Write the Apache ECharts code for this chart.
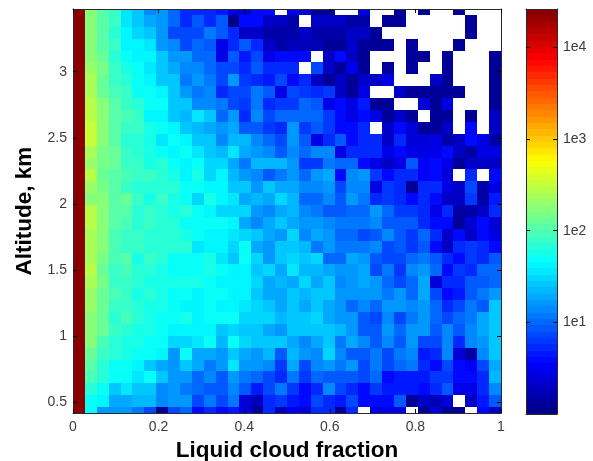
<!DOCTYPE html>
<html><head><meta charset="utf-8">
<script src="https://cdn.jsdelivr.net/npm/echarts@6/dist/echarts.min.js"></script>
<style>html,body{margin:0;padding:0;background:#fff}#c{width:593px;height:461px}</style>
</head><body><div id="c"></div>
<script>
// Counts per cell, top row (highest altitude) first; null = no data (white)
const _ = null;
const row00=[27000,170,110,80,38,28,14,16,10,5.5,5.5,5,4.7,2.7,2.3,4,4,_,2.7,2.5,1.3,1.3,_,_,2.6,_,_,1.3,_,1.3,_,_,1.3,_,_,_];
const row01=[27000,170,110,80,38,28,20,16,10,5.5,9,5,8,1,4,4,2,2,1.5,_,2,2,2,1.5,1.5,_,1.3,1.3,_,_,_,_,_,1.3,_,_];
const row02=[27000,170,105,72,44,30,25,16,7,7,7,11,8,5.5,2,2.2,1.5,1.5,1.5,2,1.4,1.4,1.4,2,2,1.3,_,_,_,_,_,_,_,1.3,_,_];
const row03=[27000,170,105,75,40,42,35,16,13,7.5,9.5,8,2.7,5.5,9,5,2.2,1.5,1.8,1.8,1.8,1.3,1.3,2,1.2,1.2,1.2,_,1.2,_,_,_,1.2,_,_,_];
const row04=[27000,190,125,70,52,40,42,28,16,15,10,10,2.8,8,4.8,7.5,3,4,4,4,_,2,4,2,1.3,_,_,_,1.2,1.2,_,1.2,_,_,_,1.2];
const row05=[27000,210,145,80,55,52,36,25,20,13,13,10,7,7,5.5,9,5,5.5,5,_,7,2.2,1.3,2.7,1.3,_,1.2,_,1.2,_,_,1.2,_,_,_,1.2];
const row06=[27000,260,135,85,65,52,44,28,28,11,16,11,7,16,6.5,5,4.3,7.5,4,5.5,2.2,1.2,2,1.2,2.2,2.2,3,_,_,_,2,1.2,_,_,_,1.2];
const row07=[27000,260,135,90,85,46,46,45,28,16,11,14,5.5,7,7,11,9,3,7,6,5.5,6.5,2,1.3,3,_,_,2,1.2,1.2,1.2,1.2,1.2,_,_,1.2];
const row08=[27000,270,190,105,80,65,50,50,25,25,13,13,11,7,6.5,11,5,6,6,10,9,3,3.8,3,4.8,1.3,1.3,_,_,2.3,1.2,3,_,_,_,1.2];
const row09=[27000,290,190,105,88,78,44,42,27,22,36,25,10,16,5,13,7,10,10,9.5,9.5,6.5,4,2.7,4,3,1.3,1.9,1.3,_,1.2,1.2,_,1.3,_,2.2];
const row10=[27000,320,190,110,85,75,55,52,42,28,23,20,17,20,8,8,6.5,5.5,16,6.5,8,6,4,4,5.5,_,2,4,2.5,1.3,1.3,2,_,3.8,_,2.2];
const row11=[27000,320,170,105,68,65,58,38,46,40,28,28,13,23,23,14,10,7,16,8,3,5.5,9,4,5,5,2.2,5.5,2.4,2.4,2.7,1.4,2,4,2.7,1.4];
const row12=[27000,260,155,125,78,70,60,50,40,46,35,26,21,35,18,16,13,8,13,10,13,13,2.7,5.5,5.5,5.5,2.8,4,2.8,2.8,2.8,4,2,1.4,3,3];
const row13=[27000,215,145,125,75,75,55,65,50,40,46,29,29,20,11,24,24,21,16,6,6,11,10,10,4,3,2,2.7,9,3.2,4,3,1.3,2,2,2];
const row14=[27000,290,135,110,95,85,82,65,62,40,58,31,44,23,17,13,8,11,15,9.5,15,19,4,14,16,6.5,4,5,5,3.2,4,2.3,_,5.5,_,4];
const row15=[27000,210,160,105,85,70,70,68,65,47,53,42,41,25,25,16,25,19,20,13,13,15,7,14,14,3,6.5,5.5,1.3,5,5.5,3,2.2,7,1.4,3];
const row16=[27000,190,190,110,125,78,60,75,54,47,31,58,44,37,20,23,18,30,21,10,10,13,9,16,11,5.5,6.5,5,4,5.5,4,2.2,2.2,6.5,1.4,4.8];
const row17=[27000,270,190,105,105,72,78,65,55,70,48,42,33,33,29,16,13,20,24,14,11,8,8,10,10,15,10,6,6.5,5.5,3,5,1.4,1.4,1.9,5.5];
const row18=[27000,290,190,110,90,70,78,65,65,48,48,48,46,44,20,13,18,25,18,15,15,13,11,11,11,14,8,8,8,5.5,4,4,1.3,2.5,3.8,2.3];
const row19=[27000,240,175,95,75,75,72,68,64,56,47,44,40,36,32,25,20,16,30,14,18,16,10,10,7.5,9,14,8,6.5,10,5,2,4,2,4,2.7];
const row20=[27000,240,175,88,78,74,70,65,63,63,38,45,40,30,47,20,15,25,25,24,11,15,11,11,11,13,7,9,6,9,4,1.9,5.5,6.5,5.5,4];
const row21=[27000,260,155,88,110,55,75,65,50,49,47,55,34,28,46,30,16,25,31,25,32,9.5,9.5,20,16,8,7,7,10,11,8,5.5,3.8,6,5,8];
const row22=[27000,290,135,85,92,68,65,62,48,47,47,55,46,45,45,25,30,20,35,24,24,20,16,16,18,7,11,6,13,16,10,4,6,5,10,10];
const row23=[27000,240,140,85,78,64,60,60,55,55,55,52,43,43,44,30,20,22,20,33,20,28,13,15,18,16,10,7,10,20,2.5,5.5,5.5,8,8,10];
const row24=[27000,215,135,88,76,58,72,55,52,46,41,47,46,44,44,26,20,20,25,21,27,25,16,16,16,16,11,15,10,20,7,4,4.7,8,11,16];
const row25=[27000,210,135,80,75,70,58,55,50,42,45,47,45,45,35,31,26,20,26,18,25,20,16,10,13,10,15,15,13,15,10,5.5,7,12,8,26];
const row26=[27000,190,135,72,90,65,55,50,49,58,41,47,47,47,32,32,32,23,26,25,31,18,16,16,9,7.5,14,7,12,17,10,7,10,12,18,27];
const row27=[27000,175,125,78,68,60,58,48,42,42,45,45,25,31,26,26,20,17,26,26,26,26,22,15,8,8,15,10,15,15,9,13,8,13,18,27];
const row28=[27000,170,95,72,56,56,52,46,30,30,37,47,23,46,30,26,26,26,20,13,19,25,11,18,13,9,13,8,15,7,7,14,5,13,15,28];
const row29=[27000,125,85,65,62,52,46,44,15,48,20,20,16,26,20,15,24,9,23,15,13,29,13,8,8,11,7,11,13,4.5,5.5,13,2.4,1.6,13,27];
const row30=[27000,105,72,48,52,45,26,20,15,27,20,11,16,35,15,15,14,6.5,20,7,14,16,11,15,7,12,7.5,10,12,5,4,7,4,3.3,7,20];
const row31=[27000,90,65,47,46,38,47,28,15,15,10,14,8,15,11,10,7,5.5,12,6.5,10.5,9,9,9,7,10,4,4.7,4.7,4.7,6,6,3.6,3.6,5.2,23];
const row32=[27000,65,48,27,36,28,26,13,15,11,10,8,8,13,9,4.5,7,11,6.5,4,5,13,7,5,4,6,4.5,4.5,4.5,4,5,8,3,3,5,13];
const row33=[27000,47,45,20,20,22,22,13,17,17,7,11,7,11,2.4,1.8,5.5,6,4.7,4,7,5.2,4.7,7,4,4,4,8,1.2,2.2,1.8,2.4,_,2.2,4.5,9];
const row34=[27000,47,16,16,15,11,7,1.3,7,10,4,5,4,4.7,3,1.2,5,1.8,3.2,2.5,5.5,5.5,1.2,5,_,3,3,3,_,1.2,2.4,1.3,1.2,_,4,1.9];
const rows=[row00,row01,row02,row03,row04,row05,row06,row07,row08,row09,row10,row11,row12,row13,row14,row15,row16,row17,row18,row19,row20,row21,row22,row23,row24,row25,row26,row27,row28,row29,row30,row31,row32,row33,row34];

const xTicks=[0,0.2,0.4,0.6,0.8,1];
const yTicks=[0.5,1,1.5,2,2.5,3];
const yTickLabels=['0.5','1','1.5','2','2.5','3'];
const cbTicks=[1,2,3,4];
const cbTickLabels=['1e1','1e2','1e3','1e4'];
const jetStops=['#000080','#0000ff','#0080ff','#00ffff','#80ff80','#ffff00','#ff8000','#ff0000','#800000'];

const yMax=3.474, yMin=0.42, maxLog=4.42, nColors=64;
const nCols=rows[0].length, nRows=rows.length;
const dx=1/nCols, dy=(yMax-yMin)/(nRows-1);
const band=l=>(Math.min(nColors-1,Math.floor(l/maxLog*nColors))+0.5)/nColors*maxLog;

const cells=[];
rows.forEach((r,j)=>r.forEach((v,i)=>{
  if(v!==null) cells.push([(i+0.5)*dx, yMax-j*dy, v, band(Math.log10(v))]);
}));
const ramp=[];
for(let k=0;k<nColors;k++){const m=(k+0.5)/nColors*maxLog; ramp.push([0.5,m,m,m]);}

const px=v=>Math.round(Math.round(v*100)/100);
function rectItem(w,h){
  return function(p,api){
    const x=api.value(0), y=api.value(1);
    const a=api.coord([x-w/2,y+h/2]), b=api.coord([x+w/2,y-h/2]);
    const cs=p.coordSys;
    const x0=px(Math.max(a[0],cs.x)), x1=px(Math.min(b[0],cs.x+cs.width));
    const y0=px(Math.max(a[1],cs.y)), y1=px(Math.min(b[1],cs.y+cs.height));
    return {type:'rect',shape:{x:x0,y:y0,width:x1-x0,height:y1-y0},style:{fill:api.visual('color')}};
  };
}
const font='"Liberation Sans", Arial, sans-serif';
const lineCol='#2a2a2a';
const aLine={show:true,onZero:false,lineStyle:{color:lineCol,width:1}};
const tick=(vals)=>({show:true,inside:true,length:4,lineStyle:{color:'#000',width:1},customValues:vals});
const noLabel={show:false};
const lbl={color:'#3c3c3c',fontSize:14,fontFamily:font};
const title={color:'#000',fontSize:22.5,fontWeight:'bold',fontFamily:font};

const chart=echarts.init(document.getElementById('c'),null,{renderer:'canvas'});
chart.setOption({
  animation:false,
  backgroundColor:'#fff',
  grid:[
    {left:73,top:9,width:428,height:404,outerBoundsMode:'none'},
    {left:526,top:9,width:31,height:405,outerBoundsMode:'none'}
  ],
  visualMap:{show:false,type:'continuous',seriesIndex:[0,1],dimension:3,min:0,max:maxLog,inRange:{color:jetStops}},
  xAxis:[
    {type:'value',gridIndex:0,min:0,max:1,position:'bottom',axisLine:aLine,axisTick:tick(xTicks),splitLine:{show:false},
     axisLabel:Object.assign({customValues:xTicks,margin:7,formatter:v=>String(v)},lbl),
     name:'Liquid cloud fraction',nameLocation:'middle',nameGap:26,nameTextStyle:title,z:5},
    {type:'value',gridIndex:0,min:0,max:1,position:'top',axisLine:aLine,axisTick:tick(xTicks),axisLabel:noLabel,splitLine:{show:false},z:5},
    {type:'value',gridIndex:1,min:0,max:1,position:'bottom',axisLine:aLine,axisTick:{show:false},axisLabel:noLabel,splitLine:{show:false},z:5},
    {type:'value',gridIndex:1,min:0,max:1,position:'top',axisLine:aLine,axisTick:{show:false},axisLabel:noLabel,splitLine:{show:false},z:5}
  ],
  yAxis:[
    {type:'value',gridIndex:0,min:yMin,max:yMax,position:'left',axisLine:aLine,axisTick:tick(yTicks),splitLine:{show:false},
     axisLabel:Object.assign({customValues:yTicks,margin:6,formatter:v=>yTickLabels[yTicks.indexOf(v)]},lbl),
     name:'Altitude, km',nameLocation:'middle',nameGap:36,nameRotate:90,nameTextStyle:title,z:5},
    {type:'value',gridIndex:0,min:yMin,max:yMax,position:'right',axisLine:aLine,axisTick:tick(yTicks),axisLabel:noLabel,splitLine:{show:false},z:5},
    {type:'value',gridIndex:1,min:0,max:maxLog,position:'left',axisLine:aLine,axisTick:tick(cbTicks),axisLabel:noLabel,splitLine:{show:false},z:5},
    {type:'value',gridIndex:1,min:0,max:maxLog,position:'right',axisLine:aLine,axisTick:tick(cbTicks),splitLine:{show:false},
     axisLabel:Object.assign({customValues:cbTicks,margin:6,formatter:v=>cbTickLabels[cbTicks.indexOf(v)]},lbl),z:5}
  ],
  series:[
    {type:'custom',xAxisIndex:0,yAxisIndex:0,data:cells,renderItem:rectItem(dx,dy),encode:{x:0,y:1},clip:true,z:2},
    {type:'custom',xAxisIndex:2,yAxisIndex:2,data:ramp,renderItem:rectItem(1,maxLog/nColors),encode:{x:0,y:1},clip:true,z:2}
  ]
});
</script></body></html>
